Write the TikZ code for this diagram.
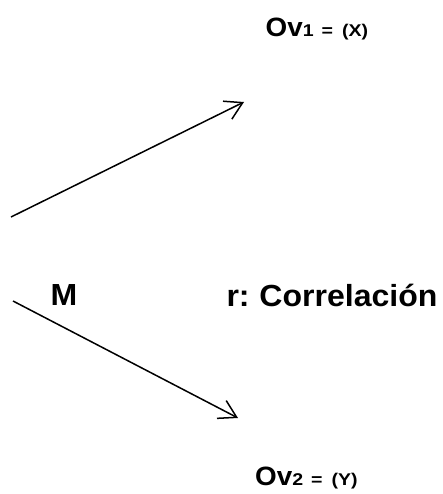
\documentclass[tikz,border=0pt]{standalone}
\usepackage{fontspec}
\setmainfont{Liberation Sans}
\newfontfamily\widefont[FakeStretch=1.05]{Liberation Sans}
\newfontfamily\subfont[FakeStretch=1.15]{Liberation Sans}
\usetikzlibrary{arrows.meta}
\newcommand{\bigtxt}{\widefont\fontsize{30.5}{36}\selectfont\bfseries}
\newcommand{\ovtxt}{\widefont\fontsize{26.5}{31}\selectfont\bfseries}
\newcommand{\subtxt}{\subfont\fontsize{17}{20}\selectfont\bfseries}
\begin{document}
\begin{tikzpicture}[x=1pt,y=-1pt,
  lbl/.style={anchor=base west,inner sep=0pt},
  arr/.style={line width=1.5pt,-{Straight Barb[length=17pt,width=20pt,line width=1.5pt]}}]
\useasboundingbox (0,0) rectangle (442,494);
\node[lbl] (ov1) at (265.5,36.5) {\ovtxt Ov\subtxt 1\hspace{8pt}=\hspace{9pt}(X)};
\node[lbl] (m) at (50.5,305.5) {\bigtxt M};
\node[lbl] (r) at (226.3,306) {\bigtxt r:\hspace{-2pt} Correlación};
\node[lbl] (ov2) at (255,485) {\ovtxt Ov\subtxt 2\hspace{8pt}=\hspace{9pt}(Y)};
\coordinate (a1s) at (11,217);
\coordinate (a1e) at (244,102);
\coordinate (a2s) at (13,301);
\coordinate (a2e) at (238,418);
\draw[arr] (a1s) -- (a1e);
\draw[arr] (a2s) -- (a2e);
\end{tikzpicture}
\end{document}
